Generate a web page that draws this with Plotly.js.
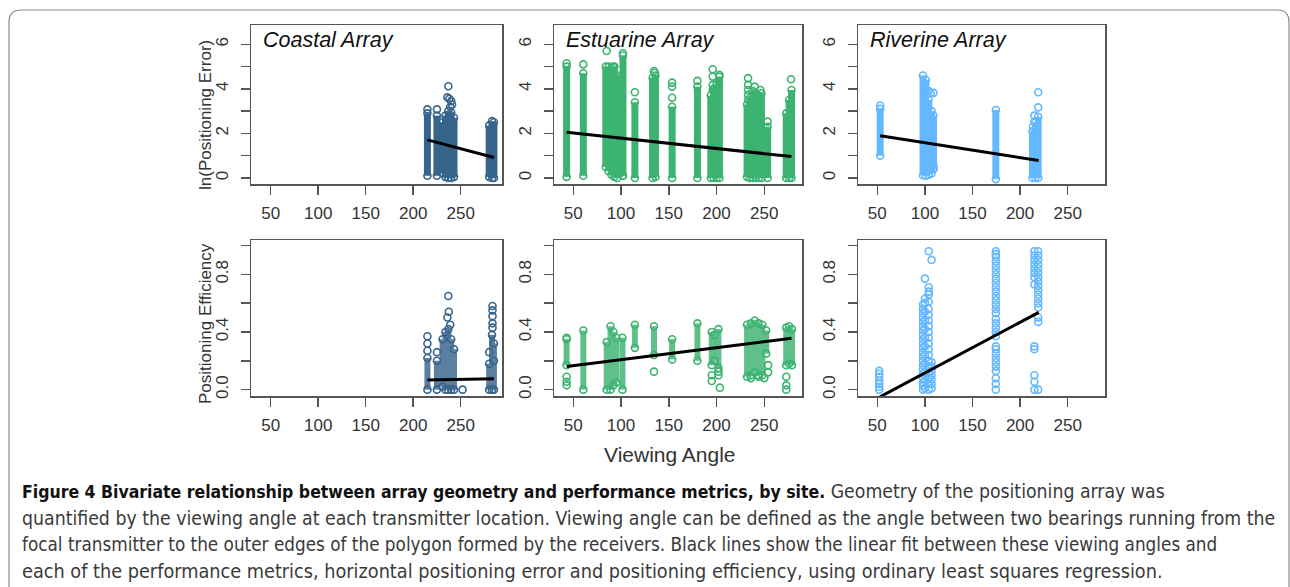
<!DOCTYPE html>
<html>
<head>
<meta charset="utf-8">
<script src="https://cdn.plot.ly/plotly-3.0.1.min.js"></script>
<style>
  html, body { margin: 0; padding: 0; background: #fff; }
  #fig { width: 1290px; height: 587px; }
</style>
</head>
<body>
<div id="fig"></div>
<script>
// ---------- Data: viewing angle vs. ln(positioning error) ----------
// Dense columns of overlapping detections: viewing angle, lowest and highest value
const coastalErrBandX  = [215, 225, 231, 234, 237, 240, 243, 280, 283, 285];
const coastalErrBandLo = [0.1, 0.1, 0.2, 0.05, 0.0, 0.0, 0.05, 0.05, 0.0, 0.0];
const coastalErrBandHi = [2.9, 2.8, 2.5, 2.8, 3.0, 2.95, 2.7, 2.35, 2.55, 2.5];
// Individually visible detections
const coastalErrPtX = [215, 225, 237, 236, 238, 240, 241, 239];
const coastalErrPtY = [3.08, 3.08, 4.12, 3.62, 3.55, 3.45, 3.3, 3.2];
// Ordinary least squares fit (end points)
const coastalErrFitX = [215, 285];
const coastalErrFitY = [1.71, 0.92];

const estuarineErrBandX  = [43, 60.5, 84, 87, 90, 93, 96, 99, 102, 114.5, 133, 136, 153.5, 180, 194, 197, 200, 203, 232, 235, 238, 241, 244, 247, 253.5, 273, 276, 278.5];
const estuarineErrBandLo = [0.05, 0.1, 0.5, 0.3, 0.15, 0.05, 0.0, 0.2, 0.1, 0.0, 0.0, 0.05, 0.0, 0.0, 0.0, 0.0, 0.0, 0.0, 0.05, 0.0, 0.0, 0.0, 0.0, 0.0, 0.0, 0.0, 0.0, 0.0];
const estuarineErrBandHi = [5.0, 4.7, 5.0, 5.0, 4.95, 5.0, 4.6, 4.5, 5.5, 3.4, 4.5, 4.6, 3.2, 4.1, 3.7, 4.0, 4.2, 4.55, 3.3, 3.6, 3.9, 3.8, 3.7, 3.8, 2.3, 2.9, 3.5, 3.95];
const estuarineErrPtX = [43, 60.5, 85, 92, 102, 102, 114.5, 134.5, 135.5, 153.5, 153.5, 153.5, 180, 196, 196, 196, 196, 203, 233, 233, 233, 233, 233, 240, 246, 253.5, 278];
const estuarineErrPtY = [5.15, 5.1, 5.7, 5.0, 5.6, 0.1, 3.85, 4.8, 4.72, 4.28, 4.1, 3.6, 4.36, 4.88, 4.55, 4.18, 3.95, 4.63, 4.48, 4.18, 3.95, 3.73, 3.5, 4.1, 3.95, 2.53, 4.43];
const estuarineErrFitX = [43, 278.5];
const estuarineErrFitY = [2.05, 0.96];

const riverineErrBandX  = [53, 98, 101, 104, 107, 109, 174.5, 213, 216, 219];
const riverineErrBandLo = [1.0, 0.12, 0.1, 0.15, 0.2, 0.4, -0.05, 0.0, 0.0, 0.0];
const riverineErrBandHi = [3.1, 4.6, 4.4, 3.5, 3.0, 2.8, 3.05, 2.1, 2.5, 2.75];
const riverineErrPtX = [53, 104, 106, 109, 109, 109, 219, 219, 215, 215, 213.5];
const riverineErrPtY = [3.25, 3.9, 3.8, 3.82, 0.58, 0.43, 3.85, 3.17, 2.8, 2.53, 2.3];
const riverineErrFitX = [53, 219.5];
const riverineErrFitY = [1.9, 0.78];

// ---------- Data: viewing angle vs. positioning efficiency ----------
const coastalEffBandX  = [215, 225, 231, 234, 237, 240, 243, 280, 283, 285];
const coastalEffBandLo = [0.0, 0.0, 0.02, 0.0, 0.0, 0.0, 0.0, 0.0, 0.0, 0.0];
const coastalEffBandHi = [0.22, 0.2, 0.35, 0.4, 0.42, 0.35, 0.28, 0.18, 0.38, 0.32];
const coastalEffPtX = [215, 215, 215, 225, 237, 237.5, 236, 239, 252, 283.5, 283.5, 283.5, 283.5, 283.5, 280, 285];
const coastalEffPtY = [0.37, 0.32, 0.27, 0.26, 0.65, 0.54, 0.5, 0.45, 0.0, 0.58, 0.55, 0.51, 0.46, 0.43, 0.26, 0.2];
const coastalEffFitX = [215, 285];
const coastalEffFitY = [0.067, 0.075];

const estuarineEffBandX  = [43, 60.5, 85, 89, 92, 95, 101.5, 114.5, 134.5, 153.5, 180, 195, 198, 202, 232, 236, 240, 244, 248, 252, 273, 276, 279];
const estuarineEffBandLo = [0.17, 0.0, 0.0, 0.0, 0.03, 0.05, 0.0, 0.29, 0.24, 0.21, 0.2, 0.17, 0.2, 0.15, 0.09, 0.1, 0.12, 0.1, 0.1, 0.25, 0.17, 0.18, 0.17];
const estuarineEffBandHi = [0.35, 0.41, 0.33, 0.44, 0.40, 0.36, 0.36, 0.45, 0.44, 0.35, 0.46, 0.4, 0.38, 0.42, 0.45, 0.46, 0.48, 0.46, 0.45, 0.41, 0.43, 0.44, 0.42];
const estuarineEffPtX = [43, 43, 43, 43, 134.5, 195, 195, 202, 202, 203.5, 236, 244, 250, 254, 254, 273, 273, 273];
const estuarineEffPtY = [0.36, 0.09, 0.055, 0.03, 0.125, 0.1, 0.06, 0.125, 0.1, 0.014, 0.08, 0.09, 0.08, 0.17, 0.12, 0.09, 0.03, 0.0];
const estuarineEffFitX = [43, 278.5];
const estuarineEffFitY = [0.16, 0.356];

// Riverine efficiency is sparse: each column lists its visible circles
const riverineEffColX = [52, 98, 100, 104, 107, 174.5, 215, 219];
const riverineEffColY = [
  [0.0, 0.02, 0.04, 0.06, 0.09, 0.11, 0.13],
  [0.0, 0.03, 0.05, 0.08, 0.11, 0.14, 0.17, 0.2, 0.23, 0.26, 0.29, 0.32, 0.35, 0.38, 0.41, 0.44, 0.47, 0.5, 0.53, 0.56, 0.59],
  [0.01, 0.06, 0.12, 0.18, 0.24, 0.3, 0.36, 0.42, 0.48, 0.54, 0.6, 0.63, 0.77],
  [0.0, 0.04, 0.08, 0.12, 0.16, 0.2, 0.24, 0.28, 0.32, 0.36, 0.4, 0.44, 0.48, 0.52, 0.56, 0.61, 0.66, 0.68, 0.71, 0.96],
  [0.9, 0.19, 0.16, 0.13, 0.1, 0.07, 0.04, 0.01],
  [0.0, 0.04, 0.08, 0.13, 0.16, 0.19, 0.22, 0.25, 0.28, 0.3, 0.37, 0.4, 0.43, 0.46, 0.49, 0.53, 0.56, 0.59, 0.62, 0.65, 0.68, 0.71, 0.74, 0.77, 0.8, 0.83, 0.86, 0.89, 0.92, 0.94, 0.96],
  [0.96, 0.93, 0.9, 0.87, 0.84, 0.81, 0.78, 0.73, 0.3, 0.28, 0.1, 0.055, 0.0],
  [0.96, 0.93, 0.9, 0.87, 0.84, 0.81, 0.78, 0.75, 0.72, 0.69, 0.66, 0.63, 0.6, 0.57, 0.5, 0.47, 0.0]
];
const riverineEffFitX = [52.8, 219.5];
const riverineEffFitY = [-0.05, 0.536];

// ---------- Labels ----------
const siteNames = ['Coastal Array', 'Estuarine Array', 'Riverine Array'];
const angleTicks = [50, 100, 150, 200, 250];
const errTicks = [0, 1, 2, 3, 4, 5, 6];
const errTickText = ['0', '', '2', '', '4', '', '6'];
const effTicks = [0, 0.2, 0.4, 0.6, 0.8, 1.0];
const effTickText = ['0.0', '', '0.4', '', '0.8', ''];
const xTitle = 'Viewing Angle';
const errTitle = 'ln(Positioning Error)';
const effTitle = 'Positioning Efficiency';
const captionBold = 'Figure 4 Bivariate relationship between array geometry and performance metrics, by site.';
const captionLines = [
  ' Geometry of the positioning array was',
  'quantified by the viewing angle at each transmitter location. Viewing angle can be defined as the angle between two bearings running from the',
  'focal transmitter to the outer edges of the polygon formed by the receivers. Black lines show the linear fit between these viewing angles and',
  'each of the performance metrics, horizontal positioning error and positioning efficiency, using ordinary least squares regression.'
];

// ---------- Styling ----------
const siteColors = ['#36648B', '#3CB371', '#63B8FF'];
const W = 1290, H = 587;
const px = v => v / W;           // horizontal pixel -> paper
const py = v => 1 - v / H;       // vertical pixel -> paper

const colDomains = [[px(251), px(502)], [px(554), px(802)], [px(858), px(1105)]];
const rowDomains = [[py(184), py(25)], [py(396), py(240)]];
const xRanges = [[29.3, 293.5], [29.8, 289.5], [29.7, 289.2]];
const errRange = [-0.27, 6.866];
const effRange = [-0.044, 1.038];

const tickFont = { family: 'Liberation Sans, Arial, sans-serif', size: 17, color: '#333' };
const axisLine = '#555';

function flattenCols(xs, ys) {
  const fx = [], fy = [];
  xs.forEach((x, k) => ys[k].forEach(v => { fx.push(x); fy.push(v); }));
  return [fx, fy];
}
const riverineEffPts = flattenCols(riverineEffColX, riverineEffColY);

const panels = [
  { bx: coastalErrBandX, lo: coastalErrBandLo, hi: coastalErrBandHi, px: coastalErrPtX, py: coastalErrPtY, fx: coastalErrFitX, fy: coastalErrFitY, col: 0, row: 0 },
  { bx: estuarineErrBandX, lo: estuarineErrBandLo, hi: estuarineErrBandHi, px: estuarineErrPtX, py: estuarineErrPtY, fx: estuarineErrFitX, fy: estuarineErrFitY, col: 1, row: 0 },
  { bx: riverineErrBandX, lo: riverineErrBandLo, hi: riverineErrBandHi, px: riverineErrPtX, py: riverineErrPtY, fx: riverineErrFitX, fy: riverineErrFitY, col: 2, row: 0 },
  { bx: coastalEffBandX, lo: coastalEffBandLo, hi: coastalEffBandHi, px: coastalEffPtX, py: coastalEffPtY, fx: coastalEffFitX, fy: coastalEffFitY, col: 0, row: 1 },
  { bx: estuarineEffBandX, lo: estuarineEffBandLo, hi: estuarineEffBandHi, px: estuarineEffPtX, py: estuarineEffPtY, fx: estuarineEffFitX, fy: estuarineEffFitY, col: 1, row: 1 },
  { bx: [], lo: [], hi: [], px: riverineEffPts[0], py: riverineEffPts[1], fx: riverineEffFitX, fy: riverineEffFitY, col: 2, row: 1 }
];

const traces = [];
const layout = {
  width: W, height: H,
  margin: { l: 0, r: 0, t: 0, b: 0 },
  paper_bgcolor: '#fff', plot_bgcolor: '#fff',
  showlegend: false,
  annotations: [], shapes: []
};

panels.forEach((p, i) => {
  const n = i + 1;
  const xa = 'x' + (n === 1 ? '' : n), ya = 'y' + (n === 1 ? '' : n);
  const color = siteColors[p.col];

  // Dense columns: a thick stroke from the lowest to the highest value
  // (the efficiency row is less crowded, so its strokes are slightly lighter)
  if (p.bx.length) {
    const bx = [], by = [];
    p.bx.forEach((x, k) => { bx.push(x, x, null); by.push(p.lo[k], p.hi[k], null); });
    traces.push({ type: 'scatter', mode: 'lines', x: bx, y: by, xaxis: xa, yaxis: ya,
      opacity: p.row === 0 ? 1 : 0.82,
      line: { color: color, width: p.row === 0 ? 7 : 6 }, hoverinfo: 'skip', connectgaps: false });
  }

  // Open circles at the column ends and at each separate detection
  const mx = [], my = [];
  p.bx.forEach((x, k) => { mx.push(x, x); my.push(p.lo[k], p.hi[k]); });
  p.px.forEach((x, k) => { mx.push(x); my.push(p.py[k]); });
  traces.push({ type: 'scatter', mode: 'markers', x: mx, y: my, xaxis: xa, yaxis: ya,
    marker: { symbol: 'circle-open', size: 7, color: color, line: { width: 1.6, color: color } },
    cliponaxis: true, hoverinfo: 'x+y' });

  // OLS fit
  traces.push({ type: 'scatter', mode: 'lines', x: p.fx, y: p.fy, xaxis: xa, yaxis: ya,
    line: { color: '#000', width: 3 }, hoverinfo: 'skip' });

  const common = {
    showline: true, mirror: true, linecolor: axisLine, linewidth: 1.5,
    ticks: 'outside', ticklen: 9, tickwidth: 1.5, tickcolor: axisLine,
    showgrid: false, zeroline: false, tickfont: tickFont, fixedrange: true
  };
  layout['xaxis' + (n === 1 ? '' : n)] = Object.assign({}, common, {
    domain: colDomains[p.col], range: xRanges[p.col], anchor: ya,
    tickmode: 'array', tickvals: angleTicks, ticklabelstandoff: 4
  });
  layout['yaxis' + (n === 1 ? '' : n)] = Object.assign({}, common, {
    domain: rowDomains[p.row], range: p.row === 0 ? errRange : effRange, anchor: xa,
    tickmode: 'array',
    tickvals: p.row === 0 ? errTicks : effTicks,
    ticktext: p.row === 0 ? errTickText : effTickText,
    tickangle: -90, ticklabelstandoff: 6
  });
});

// Site names inside the upper panels
siteNames.forEach((name, c) => {
  layout.annotations.push({
    xref: 'paper', yref: 'paper', x: colDomains[c][0] + px(10), y: py(40),
    xanchor: 'left', yanchor: 'middle', showarrow: false, text: '<i>' + name + '</i>',
    font: { family: 'Liberation Sans, Arial, sans-serif', size: 21.5, color: '#111' }
  });
});

// Axis titles
const titleFont = { family: 'Liberation Sans, Arial, sans-serif', size: 17, color: '#333' };
layout.annotations.push(
  { xref: 'paper', yref: 'paper', x: px(670), y: py(454), xanchor: 'center', yanchor: 'middle',
    showarrow: false, text: xTitle,
    font: { family: 'Liberation Sans, Arial, sans-serif', size: 21, color: '#333' } },
  { xref: 'paper', yref: 'paper', x: px(205), y: py(115), xanchor: 'center', yanchor: 'middle',
    showarrow: false, text: errTitle, textangle: -90, font: titleFont },
  { xref: 'paper', yref: 'paper', x: px(205), y: py(324), xanchor: 'center', yanchor: 'middle',
    showarrow: false, text: effTitle, textangle: -90, font: titleFont }
);

// Caption: one annotation per line, each sized to its line length
const capY = [491, 518, 544, 571];
const capSize = [19.3, 19.3, 18.75, 19.7];
captionLines.forEach((line, k) => {
  const txt = k === 0
    ? '<b><span style="color:#111;font-size:17.5px">' + captionBold + '</span></b>' + line
    : line;
  layout.annotations.push({
    xref: 'paper', yref: 'paper', x: px(20), y: py(capY[k]), xanchor: 'left', yanchor: 'middle',
    showarrow: false, text: txt, align: 'left',
    font: { family: 'DejaVu Sans Condensed, DejaVu Sans, sans-serif', size: capSize[k], color: '#3a3a3a' }
  });
});

// Rounded frame around the figure and caption
const r = 12;
layout.shapes.push({
  type: 'path', xref: 'paper', yref: 'paper', layer: 'below',
  path: 'M ' + px(9) + ',' + py(590) +
        ' L ' + px(9) + ',' + py(10 + r) +
        ' Q ' + px(9) + ',' + py(10) + ' ' + px(9 + r) + ',' + py(10) +
        ' L ' + px(1289 - r) + ',' + py(10) +
        ' Q ' + px(1289) + ',' + py(10) + ' ' + px(1289) + ',' + py(10 + r) +
        ' L ' + px(1289) + ',' + py(590),
  line: { color: '#8a8a8a', width: 1.2 }
});

Plotly.newPlot('fig', traces, layout, { staticPlot: true, displayModeBar: false });
</script>
</body>
</html>
